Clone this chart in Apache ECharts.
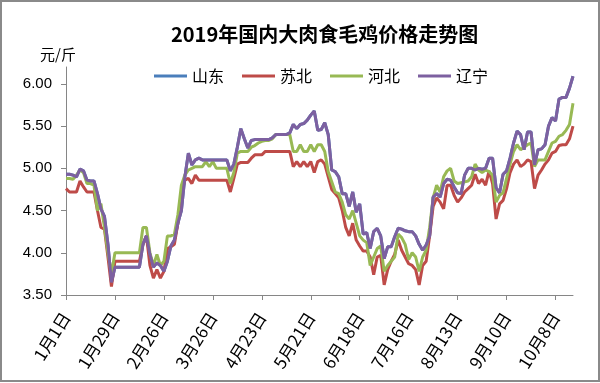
<!DOCTYPE html>
<html><head><meta charset="utf-8">
<script src="https://cdn.jsdelivr.net/npm/echarts@6/dist/echarts.min.js"></script>
<style>html,body{margin:0;padding:0;background:#fff}#c{width:600px;height:383px}</style>
</head><body><div id="c"></div>
<script>
// categories: every 2 days starting 1月1日 (2019)
var startDate = [2019, 0, 1];
var pointCount = 146;
var stepDays = 2;
var categories = [];
for (var k = 0; k < pointCount; k++) {
  var d = new Date(startDate[0], startDate[1], startDate[2] + k * stepDays);
  categories.push((d.getMonth() + 1) + '月' + d.getDate() + '日');
}
var seriesNames = ['山东', '苏北', '河北', '辽宁'];
var yTicks = [3.5, 4.0, 4.5, 5.0, 5.5, 6.0];

var liaoning = [4.93,4.93,4.92,4.90,4.99,4.97,4.86,4.85,4.85,4.70,4.52,4.43,4.10,3.65,3.83,
3.83,3.83,3.83,3.83,3.83,3.83,3.83,4.10,4.20,3.98,3.83,3.88,3.85,3.78,3.90,
4.08,4.15,4.35,4.50,4.90,5.18,5.04,5.10,5.12,5.10,5.10,5.10,5.10,5.10,5.10,
5.10,5.10,4.97,5.05,5.25,5.47,5.35,5.24,5.33,5.34,5.34,5.34,5.34,5.34,5.36,
5.40,5.40,5.40,5.40,5.42,5.52,5.47,5.52,5.53,5.57,5.63,5.68,5.45,5.46,5.54,
5.40,4.98,4.96,4.90,4.70,4.70,4.55,4.72,4.48,4.58,4.22,4.24,4.05,4.25,4.29,
4.20,3.93,4.07,4.07,4.19,4.29,4.28,4.26,4.25,4.25,4.20,4.10,4.03,4.09,4.20,
4.66,4.70,4.66,4.82,4.87,4.86,4.78,4.71,4.70,4.92,5.00,5.00,4.98,5.00,4.99,
5.00,5.12,5.12,4.77,4.71,4.93,4.97,5.12,5.30,5.44,5.40,5.22,5.43,5.43,5.04,
5.22,5.23,5.28,5.50,5.60,5.56,5.82,5.84,5.84,5.95,6.09];

var shandong = [4.93,4.93,4.92,4.90,4.99,4.97,4.86,4.85,4.85,4.70,4.52,4.43,4.10,3.65,3.83,
3.83,3.83,3.83,3.83,3.83,3.83,3.83,4.10,4.20,3.98,3.83,3.88,3.85,3.78,3.90,
4.08,4.15,4.35,4.50,4.90,5.18,5.04,5.10,5.12,5.10,5.10,5.10,5.10,5.10,5.10,
5.10,5.10,4.97,5.05,5.25,5.47,5.35,5.24,5.33,5.34,5.34,5.34,5.34,5.34,5.36,
5.40,5.40,5.40,5.40,5.42,5.52,5.47,5.52,5.53,5.57,5.63,5.68,5.45,5.46,5.54,
5.40,4.98,4.96,4.90,4.70,4.70,4.55,4.72,4.48,4.58,4.22,4.24,4.05,4.25,4.29,
4.20,3.93,4.07,4.07,4.19,4.29,4.28,4.26,4.25,4.25,4.20,4.10,4.03,4.09,4.20,
4.66,4.70,4.66,4.82,4.87,4.86,4.78,4.71,4.70,4.92,5.00,5.00,4.98,5.00,4.99,
5.00,5.12,5.12,4.77,4.71,4.93,4.97,5.12,5.30,5.44,5.40,5.22,5.43,5.43,5.04,
5.22,5.23,5.28,5.50,5.60,5.56,5.82,5.84,5.84,5.95,6.09];

var hebei = [4.88,4.88,4.87,4.92,4.98,4.95,4.82,4.82,4.80,4.50,4.58,4.30,4.00,3.75,4.00,
4.00,4.00,4.00,4.00,4.00,4.00,4.00,4.30,4.30,4.00,3.85,3.98,3.85,3.90,4.20,
4.20,4.22,4.45,4.80,4.92,4.98,5.00,5.02,5.02,5.02,5.08,5.02,5.08,5.00,5.00,
5.00,5.00,4.82,4.95,5.18,5.20,5.20,5.20,5.25,5.27,5.30,5.32,5.33,5.33,5.35,
5.40,5.40,5.40,5.40,5.40,5.20,5.20,5.28,5.20,5.20,5.28,5.20,5.28,5.28,5.20,
4.96,4.84,4.72,4.70,4.60,4.45,4.40,4.50,4.35,4.20,4.15,4.12,3.85,3.95,4.05,
4.08,3.78,3.85,3.90,3.95,4.22,4.18,4.10,3.92,4.00,3.95,3.78,3.95,4.03,4.30,
4.65,4.80,4.72,4.90,4.97,5.00,4.85,4.82,4.83,4.84,4.85,4.90,5.05,4.98,4.95,
4.98,4.96,4.92,4.60,4.68,4.71,4.88,5.05,5.20,5.28,5.22,5.25,5.28,5.30,5.02,
5.10,5.10,5.10,5.20,5.30,5.32,5.38,5.40,5.45,5.52,5.77];

var subei = [4.76,4.72,4.72,4.72,4.85,4.78,4.72,4.72,4.72,4.50,4.30,4.28,3.95,3.60,3.90,
3.90,3.90,3.90,3.90,3.90,3.90,3.90,4.10,4.20,3.85,3.70,3.80,3.70,3.78,4.05,
4.07,4.10,4.35,4.70,4.86,4.88,4.82,4.92,4.86,4.86,4.86,4.86,4.86,4.86,4.86,
4.86,4.86,4.72,4.88,5.05,5.07,5.07,5.07,5.12,5.16,5.16,5.16,5.20,5.20,5.20,
5.20,5.20,5.20,5.20,5.20,5.02,5.08,5.02,5.08,5.02,5.08,4.95,5.08,5.10,5.05,
4.90,4.75,4.70,4.65,4.50,4.30,4.20,4.35,4.15,4.08,4.02,4.02,3.95,3.74,3.95,
3.97,3.62,3.80,3.90,3.98,4.15,4.03,3.95,3.87,3.85,3.80,3.62,3.85,3.90,4.20,
4.55,4.65,4.60,4.52,4.80,4.80,4.68,4.60,4.65,4.72,4.76,4.80,4.93,4.82,4.87,
4.80,4.97,4.82,4.40,4.58,4.62,4.76,4.95,5.05,5.10,5.02,5.05,5.10,5.08,4.76,
4.92,4.98,5.05,5.10,5.18,5.20,5.27,5.28,5.28,5.35,5.50];

var colors = ['#4A7EBB', '#BE4B48', '#98B954', '#7D60A0'];
var seriesData = [shandong, subei, hebei, liaoning];

var chart = echarts.init(document.getElementById('c'));
var cjk = "'Noto Sans CJK SC', 'Liberation Sans', sans-serif";
var series = seriesNames.map(function (n, i) {
  return {
    name: n, type: 'line', data: seriesData[i], symbol: 'none', smooth: false,
    lineStyle: { width: 3, color: colors[i] }, itemStyle: { color: colors[i] },
    z: 2 + i
  };
});
chart.setOption({
  animation: false,
  backgroundColor: '#fff',
  title: {
    text: '2019年国内大肉食毛鸡价格走势图', left: 166, top: 19,
    textStyle: { fontSize: 20, fontWeight: 'bold', color: '#000', fontFamily: cjk }
  },
  legend: {
    data: seriesNames, left: 149, top: 63, icon: 'rect', itemWidth: 33, itemHeight: 3, itemGap: 18,
    textStyle: { fontSize: 16, color: '#000', fontFamily: cjk }
  },
  graphic: [
    { type: 'text', left: 40, top: 47, style: { text: '元/斤', fontSize: 15, fill: '#000', fontFamily: cjk } },
    { type: 'rect', shape: { x: 1, y: 1, width: 598, height: 380 }, style: { fill: 'none', stroke: '#8a8a8a', lineWidth: 2 }, silent: true }
  ],
  grid: { left: 66, right: 27, top: 67, bottom: 88 },
  xAxis: {
    type: 'category', data: categories, boundaryGap: false,
    axisLine: { lineStyle: { color: '#868686', width: 1 } },
    axisTick: { interval: 13, length: 5, lineStyle: { color: '#868686' } },
    axisLabel: { interval: 13, rotate: 58, margin: 19, fontSize: 17, color: '#000', fontFamily: cjk }
  },
  yAxis: {
    type: 'value', min: yTicks[0], max: 6.2, interval: 0.5,
    axisLine: { show: true, lineStyle: { color: '#868686', width: 1 } },
    axisTick: { show: true, length: 5, lineStyle: { color: '#868686' } },
    splitLine: { show: false },
    axisLabel: { showMaxLabel: false, margin: 14, fontSize: 15, color: '#000', fontFamily: "'Liberation Sans', sans-serif",
      formatter: function (v) { return yTicks.indexOf(+v.toFixed(2)) >= 0 ? v.toFixed(2) : ''; } }
  },
  series: series
});
</script></body></html>
